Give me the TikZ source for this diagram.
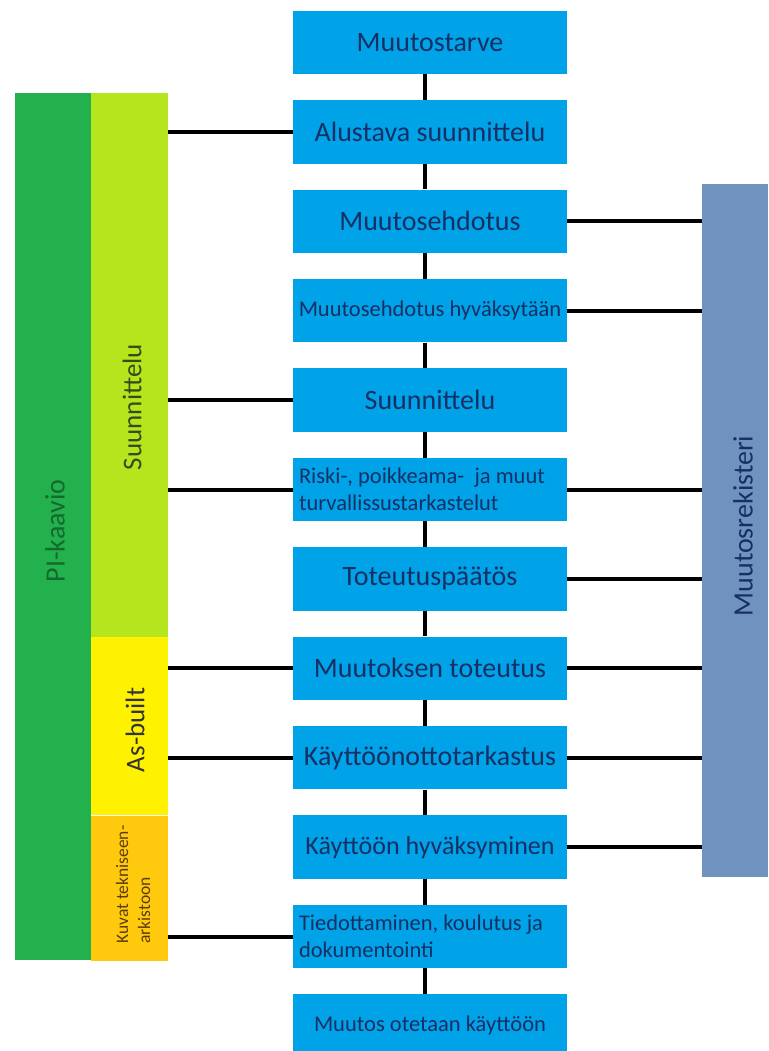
\documentclass[tikz,border=0pt]{standalone}
\usepackage{fontspec}
\setmainfont{Carlito}
\usepackage{xcolor}
\usepackage{tikz}
\usetikzlibrary{positioning}

\definecolor{boxblue}{RGB}{0,162,232}
\definecolor{pigreen}{RGB}{34,177,76}
\definecolor{limegreen}{RGB}{181,230,29}
\definecolor{asyellow}{RGB}{255,242,0}
\definecolor{goldorange}{RGB}{255,201,14}
\definecolor{regblue}{RGB}{112,146,190}
\definecolor{navytext}{RGB}{22,48,100}
\definecolor{darkgreentext}{RGB}{20,105,45}
\definecolor{olivetext}{RGB}{55,75,25}
\definecolor{browntext}{RGB}{90,60,10}

\begin{document}
\begin{tikzpicture}[x=1pt, y=-1pt, node distance=25.5pt,
    phase/.style={rectangle, fill=boxblue, minimum width=274pt, minimum height=63.5pt, inner sep=0pt, text=navytext, font=\fontsize{28}{30}\selectfont},
    smallphase/.style={phase, font=\fontsize{22.5}{27}\selectfont},
    twoline/.style={smallphase, text width=262pt, inner xsep=6pt, align=flush left},
    bar/.style={rectangle, inner sep=0pt},
    sidelabel/.style={rotate=90, font=\fontsize{27}{30}\selectfont},
    link/.style={line width=4pt}]
\useasboundingbox (0,0) rectangle (768,1051);

% left and right bars
\node[bar, fill=pigreen, minimum width=76pt, minimum height=867pt] (pi) at (53,526.5) {};
\node[bar, fill=limegreen, minimum width=77pt, minimum height=544pt] (suunbar) at (129.5,365) {};
\node[bar, fill=asyellow, minimum width=77pt, minimum height=178pt, below=0pt of suunbar] (asbar) {};
\node[bar, fill=goldorange, minimum width=77pt, minimum height=145pt, below=0pt of asbar] (kuvabar) {};
\node[bar, fill=regblue, minimum width=66pt, minimum height=693pt] (reg) at (735,530.5) {};

\node[sidelabel, text=darkgreentext, font=\fontsize{28}{30}\selectfont] (pilabel) at (55,531) {PI-kaavio};
\node[sidelabel, text=olivetext] (suunlabel) at (132,407) {Suunnittelu};
\node[sidelabel, text=black!80] (aslabel) at (135,730) {As-built};
\node[sidelabel, text=browntext, align=flush left, font=\fontsize{17.5}{22}\selectfont] (kuvalabel) at (133,884.5) {Kuvat tekniseen-\\arkistoon};
\node[sidelabel, text=navytext, font=\fontsize{28}{30}\selectfont] (reglabel) at (743,526) {Muutosrekisteri};

% process steps
\node[phase] (tarve) at (430,42.5) {Muutostarve};
\node[phase, below=of tarve] (alust) {Alustava suunnittelu};
\node[phase, below=of alust] (ehd) {Muutosehdotus};
\node[smallphase, below=of ehd] (hyv) {Muutosehdotus hyväksytään};
\node[phase, below=of hyv] (suun) {Suunnittelu};
\node[twoline, below=of suun] (riski) {Riski-, poikkeama-\ \ ja muut\\turvallissustarkastelut};
\node[phase, below=of riski] (paat) {Toteutuspäätös};
\node[phase, below=of paat] (tot) {Muutoksen toteutus};
\node[phase, below=of tot] (kayt) {Käyttöönottotarkastus};
\node[phase, font=\fontsize{26}{30}\selectfont, below=of kayt] (hyvk) {Käyttöön hyväksyminen};
\node[twoline, below=of hyvk] (tied) {Tiedottaminen, koulutus ja\\dokumentointi};
\node[smallphase, below=of tied] (otet) {Muutos otetaan käyttöön};

\foreach \a/\b in {tarve/alust, alust/ehd, ehd/hyv, hyv/suun, suun/riski, riski/paat, paat/tot, tot/kayt, kayt/hyvk, hyvk/tied, tied/otet}
    \draw[link] ([xshift=-5pt]\a.south) -- ([xshift=-5pt]\b.north);
\foreach \n/\side in {alust/suunbar, suun/suunbar, riski/suunbar, tot/asbar, kayt/asbar, tied/kuvabar}
    \draw[link] (\n.west) -- (\n.west -| \side.east);
\foreach \n in {ehd, hyv, riski, paat, tot, kayt, hyvk}
    \draw[link] (\n.east) -- (\n.east -| reg.west);
\end{tikzpicture}
\end{document}
